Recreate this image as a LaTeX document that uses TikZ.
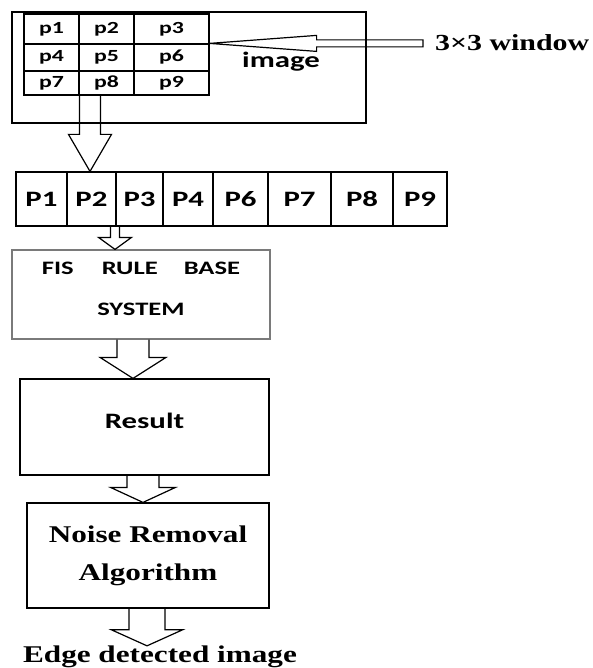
\documentclass[tikz,border=0pt]{standalone}
\usepackage{fontspec}
\setmainfont{Liberation Serif}[FakeStretch=1.3]
\newfontfamily\calib{Carlito}[FakeStretch=1.4]
\usetikzlibrary{calc}
\definecolor{boxgrey}{HTML}{7A7A7A}
\newcommand{\SCell}{\fontsize{17}{20}\selectfont\calib\bfseries}
\newcommand{\SFis}{\fontsize{19}{41}\selectfont\calib\bfseries}
\newcommand{\SBox}{\fontsize{22}{26}\selectfont\calib\bfseries}
\newcommand{\SSerif}{\fontsize{24}{38}\selectfont\bfseries}
\newcommand{\up}[1]{\raisebox{6pt}[\height][\depth]{#1}}
% hollow block arrow pointing down: x, from node, to node, shaft half, head half, head length
\newcommand{\flowarrow}[6]{%
  \draw[hollow] let \p1=(#2.south), \p2=(#3.north) in
    (#1pt-#4pt,\y1) -- (#1pt-#4pt,\y2+#6pt) -- (#1pt-#5pt,\y2+#6pt) -- (#1pt,\y2)
    -- (#1pt+#5pt,\y2+#6pt) -- (#1pt+#4pt,\y2+#6pt) -- (#1pt+#4pt,\y1);}

\begin{document}
\begin{tikzpicture}[x=1pt, y=-1pt,
  hollow/.style={draw=black, line width=1.2pt, line join=miter},
  frame/.style={draw=black, line width=1.2pt, inner sep=0pt},
  cell/.style={draw=black, line width=1.2pt, inner sep=0pt},
  block/.style={draw=black, line width=1.2pt, align=center, inner sep=0pt}
]
\useasboundingbox (0,0) rectangle (593,668);

% Input image with the 3x3 window.
\node[frame, minimum width=354pt, minimum height=111pt] (img) at (189,67.5) {};
\node[font=\SBox] (imglab) at (281,62) {image};
\foreach \r/\yt/\yb in {0/14/44, 1/44/71, 2/71/95}
  \foreach \c/\xl/\xr in {1/24/79, 2/79/134, 3/134/209} {
    \pgfmathtruncatemacro{\k}{3*\r+\c}
    \node[cell, font=\SCell, minimum width={(\xr-\xl)*1pt},
          minimum height={(\yb-\yt)*1pt}] (c\k) at ({(\xl+\xr)/2},{(\yt+\yb)/2}) {p\k};
  }

% Window label and its arrow.
\node[font=\SSerif\fontsize{23}{26}\selectfont, anchor=west, inner sep=0pt] (win) at (435,43) {3×3 window};
\draw[hollow] let \p1=(c6.north east), \p2=(win.west) in
  (\x1,\y1) -- (\x1+107pt,\y1+8pt) -- (\x1+107pt,\y1+3.5pt) -- (\x2-12pt,\y1+3.5pt)
  -- (\x2-12pt,\y1-3.5pt) -- (\x1+107pt,\y1-3.5pt) -- (\x1+107pt,\y1-8pt) -- cycle;

% Pixel vector.
\foreach \n/\xl/\xr/\lab in {1/16/67/P1, 2/67/116/P2, 3/116/163/P3, 4/163/213/P4,
                             5/213/268/P6, 6/268/331/P7, 7/331/393/P8, 8/393/447/P9}
  \node[cell, font=\SBox, minimum width={(\xr-\xl)*1pt}, minimum height=54pt]
    (r\n) at ({(\xl+\xr)/2},199) {\lab};

% Processing blocks.
\node[block, draw=boxgrey, font=\SFis, minimum width=258pt, minimum height=89pt]
  (fis) at (141,294.5) {\up{FIS\hspace{28pt}RULE\hspace{26pt}BASE}\\\up{SYSTEM}};
\node[block, font=\SBox, minimum width=249pt, minimum height=96pt] (res) at (144.5,427) {\up{Result}};
\node[block, font=\SSerif, minimum width=242pt, minimum height=105pt]
  (noise) at (148,555.5) {Noise Removal\\Algorithm};
\node[font=\SSerif, inner sep=0pt] (edge) at (160,657) {Edge detected image};

% Flow.
\flowarrow{90}{c8}{r2}{10.5}{21.5}{37}
\flowarrow{115}{r2}{fis}{4.5}{16.5}{12}
\flowarrow{133}{fis}{res}{16}{33}{21}
\flowarrow{143}{res}{noise}{16}{32.5}{15}
\flowarrow{147}{noise}{edge}{18}{35.5}{16}
\end{tikzpicture}
\end{document}
